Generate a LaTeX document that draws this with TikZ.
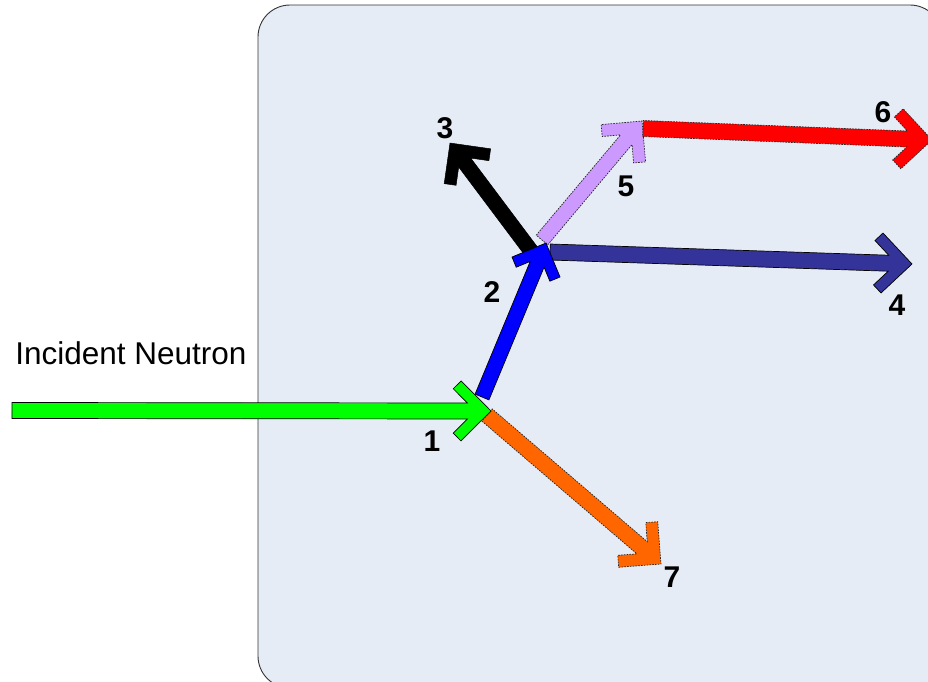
\documentclass[tikz,border=0pt]{standalone}
\usepackage{fontspec}
\setmainfont{Liberation Sans}
\usetikzlibrary{calc}
\definecolor{bgbox}{RGB}{230,236,246}
\definecolor{ngreen}{RGB}{0,255,0}
\definecolor{nblue}{RGB}{0,0,255}
\definecolor{ndblue}{RGB}{51,51,153}
\definecolor{nlav}{RGB}{204,153,255}
\definecolor{nred}{RGB}{255,0,0}
\definecolor{norange}{RGB}{255,102,0}
\newcommand\fatarr[6]{%
  \path (#1); \pgfgetlastxy{\fAx}{\fAy}%
  \path (#2); \pgfgetlastxy{\fBx}{\fBy}%
  \pgfmathsetmacro\fang{atan2(\fBy-\fAy,\fBx-\fAx)}%
  \pgfmathsetmacro\flen{veclen(\fBx-\fAx,\fBy-\fAy)}%
  \begin{scope}[shift={(#1)},rotate=\fang]
    \draw[#6] (0,{#3}) -- ({\flen-#3-1.41421*#4},{#3})
      -- ({\flen-#5-0.70711*#4},{#5-0.70711*#4}) -- ({\flen-#5},{#5})
      -- ({\flen},0) -- ({\flen-#5},{-#5})
      -- ({\flen-#5-0.70711*#4},{-#5+0.70711*#4})
      -- ({\flen-#3-1.41421*#4},{-#3}) -- (0,{-#3}) -- cycle;
  \end{scope}}
\tikzset{
  solidout/.style={draw=black, line width=0.7pt},
  dashout/.style={draw=black!85, line width=0.7pt, dash pattern=on 1.6pt off 1.2pt},
  lbl/.style={font=\bfseries\fontsize{30}{32}\selectfont, inner sep=0pt}
}
\begin{document}
\begin{tikzpicture}[x=1pt,y=-1pt]
\useasboundingbox (0,0) rectangle (928,681);
\clip (0,0) rectangle (928,681);
\draw[rounded corners=32pt, fill=bgbox, draw=black!80, line width=0.9pt] (258,5) rectangle (942,688);

\coordinate (gA) at (12,410.5);
\coordinate (gB) at (491,411);
\coordinate (bA) at (482,397);
\coordinate (bB) at (546,243);
\coordinate (kA) at (531,251);
\coordinate (kB) at (450,143);
\coordinate (dA) at (550,252);
\coordinate (dB) at (912,264);
\coordinate (lA) at (542,240);
\coordinate (lB) at (642,121);
\coordinate (rA) at (643,128.5);
\coordinate (rB) at (932,140);
\coordinate (oA) at (487,415);
\coordinate (oB) at (661,564);

\fatarr{kA}{kB}{7.5}{12}{29}{fill=black, draw=black, line width=0.5pt}
\fatarr{lA}{lB}{7.5}{12}{29}{fill=nlav, dashout}
\fatarr{rA}{rB}{8}{12}{30}{fill=nred, dashout}
\fatarr{dA}{dB}{8}{11}{30}{fill=ndblue, solidout}
\fatarr{oA}{oB}{8}{12}{30}{fill=norange, dashout}
\fatarr{bA}{bB}{7.5}{11}{26}{fill=nblue, solidout}
\fatarr{gA}{gB}{8}{11}{30}{fill=ngreen, solidout}

\node[lbl] (l1) at (432,441) {1};
\node[lbl] (l2) at (492,292) {2};
\node[lbl] (l3) at (445,128) {3};
\node[lbl] (l4) at (897,305) {4};
\node[lbl] (l5) at (626,186) {5};
\node[lbl] (l6) at (883,112) {6};
\node[lbl] (l7) at (672,577) {7};
\node[font=\fontsize{31.5}{34}\selectfont, inner sep=0pt] (inc) at (131,353) {Incident Neutron};
\end{tikzpicture}
\end{document}
